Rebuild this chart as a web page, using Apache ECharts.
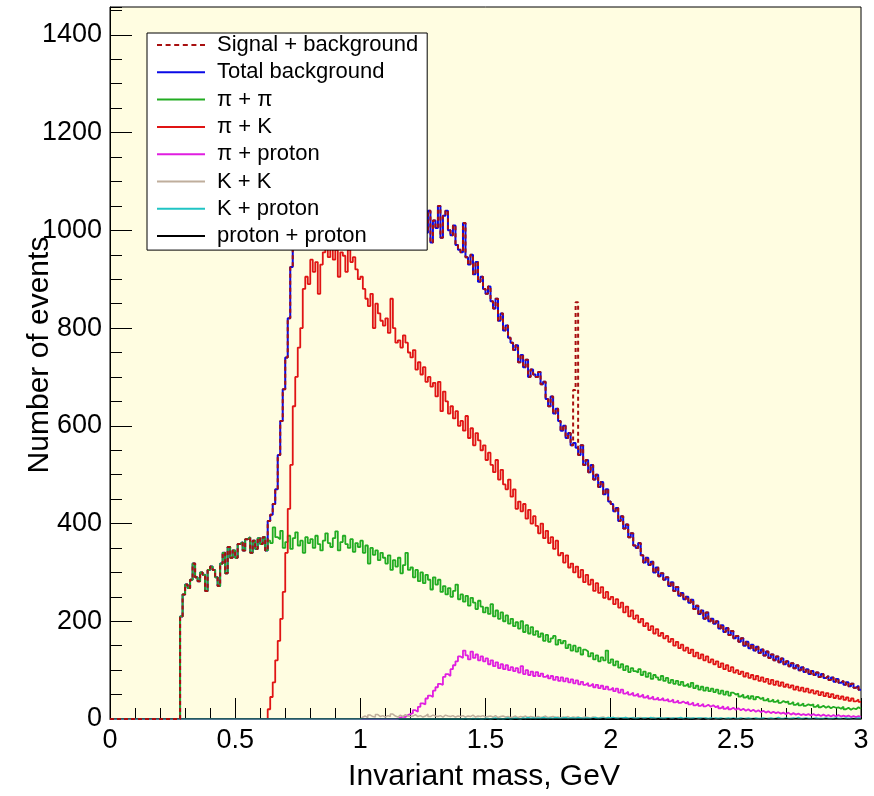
<!DOCTYPE html>
<html>
<head>
<meta charset="utf-8">
<script src="https://cdn.jsdelivr.net/npm/echarts@6/dist/echarts.min.js"></script>
<style>
html,body{margin:0;padding:0;background:#ffffff;}
#chart{width:874px;height:796px;}
</style>
</head>
<body>
<div id="chart"></div>
<script>
// ---------- axis / bin definitions ----------
const massMin = 0;
const massMax = 3;
const binWidth = 0.01;            // 300 bins of 10 MeV
const xTickInterval = 0.5;
const yMax = 1457;
const yTickInterval = 200;
const yMinorInterval = 50;
const xTitle = 'Invariant mass, GeV';
const yTitle = 'Number of events';

const seriesNames = ['Signal + background', 'Total background', 'π + π', 'π + K', 'π + proton', 'K + K', 'K + proton', 'proton + proton'];

// ---------- histogram contents (one value per 0.01 GeV bin, starting at 0.00) ----------
const totalBackground = [
0,0,0,0,0,0,0,0,0,0,                 // 0.00
0,0,0,0,0,0,0,0,0,0,                 // 0.10
0,0,0,0,0,0,0,0,210,255,             // 0.20
275,268,285,318,290,282,300,295,262,305, // 0.30
312,305,290,272,318,340,298,352,330,345, // 0.40
330,358,362,345,368,372,340,365,348,370, // 0.50
358,372,345,405,418,440,470,540,610,675, // 0.60
740,820,925,1010,1070,1130,1180,1240,1270,1290, // 0.70
1310,1285,1330,1300,1290,1340,1360,1320,1345,1370, // 0.80
1380,1340,1330,1355,1320,1305,1335,1280,1310,1265, // 0.90
1275,1230,1220,1175,1225,1150,1200,1160,1165,1140, // 1.00
1145,1130,1170,1130,1090,1110,1070,1105,1115,1065, // 1.10
1060,1050,1030,1025,1010,1045,995,1040,975,1020,   // 1.20
1005,1050,985,1030,1040,1000,990,1010,970,960,     // 1.30
955,1015,945,930,950,910,935,895,905,880,          // 1.40
870,885,855,840,860,815,830,795,805,780,           // 1.50
770,755,765,730,745,720,735,700,715,705,           // 1.60
700,710,685,690,655,640,660,625,635,610,           // 1.70
590,600,575,585,560,565,555,540,560,520,           // 1.80
530,505,520,490,500,475,485,460,470,445,           // 1.90
440,425,432,405,415,390,398,372,380,355,           // 2.00
350,360,335,320,330,315,322,300,310,292,           // 2.10
298,285,290,272,280,262,270,252,258,245,           // 2.20
250,238,244,225,232,215,222,205,218,200,           // 2.30
205,195,200,185,192,178,186,172,180,165,           // 2.40
170,158,165,150,158,145,152,140,148,135,           // 2.50
142,130,138,125,132,120,128,116,124,112,           // 2.60
118,108,114,104,110,100,106,96,102,92,             // 2.70
98,90,95,86,92,84,88,80,85,76,                     // 2.80
82,74,78,70,75,67,72,64,68,60                      // 2.90
];

const signalPlusBackground = [
0,0,0,0,0,0,0,0,0,0,                 // 0.00
0,0,0,0,0,0,0,0,0,0,                 // 0.10
0,0,0,0,0,0,0,0,210,255,             // 0.20
275,268,285,318,290,282,300,295,262,305, // 0.30
312,305,290,272,318,340,298,352,330,345, // 0.40
330,358,362,345,368,372,340,365,348,370, // 0.50
358,372,345,405,418,440,470,540,610,675, // 0.60
740,820,925,1010,1070,1130,1180,1240,1270,1290, // 0.70
1310,1285,1330,1300,1290,1340,1360,1320,1345,1370, // 0.80
1380,1340,1330,1355,1320,1305,1335,1280,1310,1265, // 0.90
1275,1230,1220,1175,1225,1150,1200,1160,1165,1140, // 1.00
1145,1130,1170,1130,1090,1110,1070,1105,1115,1065, // 1.10
1060,1050,1030,1025,1010,1045,995,1040,975,1020,   // 1.20
1005,1050,985,1030,1040,1000,990,1010,970,960,     // 1.30
955,1015,945,930,950,910,935,895,905,880,          // 1.40
870,885,855,840,860,815,830,795,805,780,           // 1.50
770,755,765,730,745,720,735,700,715,705,           // 1.60
700,710,685,690,655,640,660,625,635,610,           // 1.70
590,600,575,585,560,673,853,540,560,520,           // 1.80  (signal peak)
530,505,520,490,500,475,485,460,470,445,           // 1.90
440,425,432,405,415,390,398,372,380,355,           // 2.00
350,360,335,320,330,315,322,300,310,292,           // 2.10
298,285,290,272,280,262,270,252,258,245,           // 2.20
250,238,244,225,232,215,222,205,218,200,           // 2.30
205,195,200,185,192,178,186,172,180,165,           // 2.40
170,158,165,150,158,145,152,140,148,135,           // 2.50
142,130,138,125,132,120,128,116,124,112,           // 2.60
118,108,114,104,110,100,106,96,102,92,             // 2.70
98,90,95,86,92,84,88,80,85,76,                     // 2.80
82,74,78,70,75,67,72,64,68,60                      // 2.90
];

const pionPion = [
0,0,0,0,0,0,0,0,0,0,                 // 0.00
0,0,0,0,0,0,0,0,0,0,                 // 0.10
0,0,0,0,0,0,0,0,210,255,             // 0.20
275,268,285,318,290,282,300,295,262,305, // 0.30
312,305,290,272,318,340,298,352,330,345, // 0.40
330,358,362,345,368,372,340,365,348,370, // 0.50
358,372,345,365,360,392,372,368,385,350, // 0.60
362,375,348,370,382,355,365,340,372,360, // 0.70
368,350,375,358,345,365,380,360,352,370, // 0.80
384,345,362,375,358,350,368,342,360,352, // 0.90
365,340,355,318,350,336,345,325,340,330, // 1.00
318,335,305,325,312,330,298,315,340,305, // 1.10
310,290,305,282,300,278,295,285,265,290, // 1.20
275,285,260,272,255,268,250,262,275,245, // 1.30
255,240,252,232,248,238,225,242,230,218, // 1.40
228,215,235,210,222,205,218,200,212,195, // 1.50
205,190,198,185,200,178,192,175,188,172, // 1.60
180,168,175,160,172,158,165,170,152,162, // 1.70
155,160,145,152,140,150,138,146,132,142, // 1.80
138,128,135,122,130,118,126,120,140,115, // 1.90
122,110,118,105,112,100,108,96,104,98,   // 2.00
95,102,90,97,86,94,82,90,85,80,          // 2.10
88,78,84,74,80,72,78,70,76,68,           // 2.20
72,66,74,63,68,60,66,58,64,57,           // 2.30
62,55,60,52,58,50,56,48,54,50,           // 2.40
52,46,50,44,48,42,47,40,45,41,           // 2.50
44,38,42,36,40,35,39,33,37,34,           // 2.60
36,31,35,29,33,28,32,27,30,28,           // 2.70
30,25,29,24,27,23,26,22,25,23,           // 2.80
24,21,25,20,23,19,22,20,24,21            // 2.90
];

const pionKaon = [
0,0,0,0,0,0,0,0,0,0,                 // 0.00
0,0,0,0,0,0,0,0,0,0,                 // 0.10
0,0,0,0,0,0,0,0,0,0,                 // 0.20
0,0,0,0,0,0,0,0,0,0,                 // 0.30
0,0,0,0,0,0,0,0,0,0,                 // 0.40
0,0,0,0,0,0,0,0,0,0,                 // 0.50
0,0,0,20,45,75,120,160,205,260,      // 0.60
340,430,520,640,700,760,800,880,905,890, // 0.70
940,915,935,870,930,955,965,945,970,940, // 0.80
960,905,955,948,915,960,935,945,920,900, // 0.90
905,880,860,845,870,800,850,830,815,805, // 1.00
820,790,860,800,770,775,760,785,770,750, // 1.10
740,755,715,730,705,720,690,700,680,688, // 1.20
660,690,630,670,650,625,640,615,630,600, // 1.30
610,590,620,575,595,560,585,570,550,560, // 1.40
530,545,520,505,530,490,510,480,470,490, // 1.50
455,470,430,445,425,440,410,428,400,415, // 1.60
395,380,400,370,385,360,372,348,365,335, // 1.70
340,320,335,310,318,300,312,290,305,280, // 1.80
295,275,285,262,278,258,270,248,260,245, // 1.90
250,235,245,228,238,218,230,210,222,205, // 2.00
212,198,205,190,196,182,190,175,184,170, // 2.10
176,165,170,158,164,150,158,145,152,140, // 2.20
146,135,142,128,136,124,132,120,128,116, // 2.30
122,112,118,106,114,102,110,98,106,95,   // 2.40
100,92,97,87,94,84,90,81,88,78,          // 2.50
85,76,82,72,80,70,77,68,75,66,           // 2.60
71,64,69,60,66,58,64,56,62,54,           // 2.70
59,52,57,49,55,47,53,45,51,43,           // 2.80
48,41,46,39,44,37,42,36,40,35            // 2.90
];

const pionProton = [
0,0,0,0,0,0,0,0,0,0,                 // 0.00
0,0,0,0,0,0,0,0,0,0,                 // 0.10
0,0,0,0,0,0,0,0,0,0,                 // 0.20
0,0,0,0,0,0,0,0,0,0,                 // 0.30
0,0,0,0,0,0,0,0,0,0,                 // 0.40
0,0,0,0,0,0,0,0,0,0,                 // 0.50
0,0,0,0,0,0,0,0,0,0,                 // 0.60
0,0,0,0,0,0,0,0,0,0,                 // 0.70
0,0,0,0,0,0,0,0,0,0,                 // 0.80
0,0,0,0,0,0,0,0,0,0,                 // 0.90
0,0,0,0,0,0,0,0,0,0,                 // 1.00
0,0,0,0,0,3,5,4,8,10,                // 1.10
12,18,15,25,32,30,42,48,45,58,       // 1.20
65,72,70,86,92,88,102,110,118,128,   // 1.30
125,140,130,122,138,125,132,120,128,118, // 1.40
124,112,120,108,116,104,112,102,110,100, // 1.50
106,98,104,95,108,92,100,90,97,88,   // 1.60
96,88,93,86,90,83,88,80,86,78,       // 1.70
85,77,83,75,81,73,79,71,76,70,       // 1.80
74,68,72,65,70,63,68,61,66,60,       // 1.90
64,57,62,54,60,52,56,50,54,48,       // 2.00
52,46,50,44,48,42,46,40,44,39,       // 2.10
43,38,41,36,40,34,38,33,36,32,       // 2.20
35,30,34,28,32,27,31,26,29,25,       // 2.30
28,24,27,22,26,21,25,20,23,19,       // 2.40
22,18,21,17,20,16,19,15,18,14,       // 2.50
17,13,16,12,15,12,14,11,13,10,       // 2.60
13,9,12,9,11,8,10,8,10,7,            // 2.70
10,7,9,6,9,6,8,5,8,5,                // 2.80
8,5,7,5,7,4,6,4,6,4                  // 2.90
];

const kaonKaon = [
0,0,0,0,0,0,0,0,0,0,  // 0.00
0,0,0,0,0,0,0,0,0,0,  // 0.10
0,0,0,0,0,0,0,0,0,0,  // 0.20
0,0,0,0,0,0,0,0,0,0,  // 0.30
0,0,0,0,0,0,0,0,0,0,  // 0.40
0,0,0,0,0,0,0,0,0,0,  // 0.50
0,0,0,0,0,0,0,0,0,0,  // 0.60
0,0,0,0,0,0,0,0,0,0,  // 0.70
0,0,0,0,0,0,0,0,0,0,  // 0.80
0,0,0,0,0,0,0,0,0,0,  // 0.90
4,6,3,8,5,4,9,5,7,4,  // 1.00
7,5,10,6,4,8,5,9,6,5, // 1.10
6,9,5,7,4,6,10,5,8,6, // 1.20
5,7,4,8,6,5,7,4,6,5,  // 1.30
7,4,6,5,8,4,6,5,7,4,  // 1.40
5,6,4,7,3,5,6,4,5,3,  // 1.50
4,6,3,5,4,6,3,5,4,3,  // 1.60
5,3,4,6,3,4,5,3,4,2,  // 1.70
4,3,5,2,4,3,4,2,3,4,  // 1.80
3,2,4,3,2,3,4,2,3,2,  // 1.90
3,2,3,2,2,3,2,1,3,2,  // 2.00
2,3,1,2,2,1,3,2,1,2,  // 2.10
2,1,2,2,1,2,1,2,1,1,  // 2.20
1,2,1,1,0,1,2,1,0,1,  // 2.30
1,0,1,1,0,1,0,1,0,1,  // 2.40
0,1,0,1,0,0,1,0,0,1,  // 2.50
0,0,1,0,0,1,0,0,0,0,  // 2.60
0,1,0,0,0,0,1,0,0,0,  // 2.70
0,0,0,1,0,0,0,0,1,0,  // 2.80
0,0,0,0,1,0,0,0,0,0   // 2.90
];

const kaonProton = [
0,0,0,0,0,0,0,0,0,0,  // 0.00
0,0,0,0,0,0,0,0,0,0,  // 0.10
0,0,0,0,0,0,0,0,0,0,  // 0.20
0,0,0,0,0,0,0,0,0,0,  // 0.30
0,0,0,0,0,0,0,0,0,0,  // 0.40
0,0,0,0,0,0,0,0,0,0,  // 0.50
0,0,0,0,0,0,0,0,0,0,  // 0.60
0,0,0,0,0,0,0,0,0,0,  // 0.70
0,0,0,0,0,0,0,0,0,0,  // 0.80
0,0,0,0,0,0,0,0,0,0,  // 0.90
0,0,0,0,0,0,0,0,0,0,  // 1.00
0,0,0,0,0,0,0,0,0,0,  // 1.10
0,0,0,0,0,0,0,0,0,0,  // 1.20
0,0,0,0,0,0,0,0,0,0,  // 1.30
0,1,0,0,1,0,1,0,0,1,  // 1.40
1,0,1,2,0,1,0,1,2,0,  // 1.50
1,2,1,0,2,1,3,1,2,1,  // 1.60
2,1,3,2,1,2,1,3,2,1,  // 1.70
2,3,1,2,2,1,3,2,1,2,  // 1.80
2,1,2,3,1,2,2,1,3,2,  // 1.90
3,2,1,2,2,3,1,2,2,1,  // 2.00
2,1,2,2,1,3,2,1,2,2,  // 2.10
1,2,2,1,2,1,2,3,1,2,  // 2.20
2,1,2,1,2,2,1,2,1,2,  // 2.30
1,2,1,2,1,1,2,1,2,1,  // 2.40
1,2,1,1,2,1,1,2,1,1,  // 2.50
2,1,1,2,1,1,3,1,1,2,  // 2.60
1,1,2,1,3,1,1,2,1,1,  // 2.70
1,2,1,1,1,2,1,1,1,2,  // 2.80
1,1,1,2,1,1,1,1,2,1   // 2.90
];

const protonProton = [
0,0,0,0,0,0,0,0,0,0,  // 0.00
0,0,0,0,0,0,0,0,0,0,  // 0.10
0,0,0,0,0,0,0,0,0,0,  // 0.20
0,0,0,0,0,0,0,0,0,0,  // 0.30
0,0,0,0,0,0,0,0,0,0,  // 0.40
0,0,0,0,0,0,0,0,0,0,  // 0.50
0,0,0,0,0,0,0,0,0,0,  // 0.60
0,0,0,0,0,0,0,0,0,0,  // 0.70
0,0,0,0,0,0,0,0,0,0,  // 0.80
0,0,0,0,0,0,0,0,0,0,  // 0.90
0,0,0,0,0,0,0,0,0,0,  // 1.00
0,0,0,0,0,0,0,0,0,0,  // 1.10
0,0,0,0,0,0,0,0,0,0,  // 1.20
0,0,0,0,0,0,0,0,0,0,  // 1.30
0,0,0,0,0,0,0,0,0,0,  // 1.40
0,0,0,0,0,0,0,0,0,0,  // 1.50
0,0,0,0,0,0,0,0,0,0,  // 1.60
0,0,0,0,0,0,0,0,0,0,  // 1.70
0,0,0,0,0,0,0,0,0,0,  // 1.80
0,0,1,0,0,0,1,0,0,0,  // 1.90
1,0,0,1,0,0,0,1,0,0,  // 2.00
0,1,0,0,1,0,0,0,1,0,  // 2.10
0,0,1,0,0,1,0,0,0,1,  // 2.20
0,0,0,1,0,0,1,0,0,0,  // 2.30
1,0,0,0,1,0,0,0,1,0,  // 2.40
0,0,1,0,0,0,1,0,0,0,  // 2.50
0,1,0,0,0,1,0,0,0,1,  // 2.60
0,0,0,1,0,0,0,1,0,0,  // 2.70
1,0,0,0,0,1,0,0,0,1,  // 2.80
0,0,1,0,0,0,1,0,0,0   // 2.90
];

// ---------- styling ----------
const FONT = "'Liberation Sans', Arial, Helvetica, sans-serif";
const colors = {
  signal: '#a80f0f',
  total: '#0a0ae6',
  pipi: '#22ac22',
  piK: '#e01414',
  piP: '#e01ee0',
  KK: '#bfae9c',
  KP: '#20c4c4',
  PP: '#000000'
};

// legend glyphs: a short dashed stroke for the signal, a plain stroke for the others
const dashedIcon = 'path://M0,0h5v2h-5zM8.6,0h5v2h-5zM17.2,0h5v2h-5zM25.8,0h5v2h-5zM34.4,0h5v2h-5zM43,0h5v2h-5z';
const solidIcon = 'rect';

// histogram outline: point at each bin's lower edge, plus the last upper edge
function histPoints(values) {
  const pts = values.map((v, i) => [Math.round(i * binWidth * 1000) / 1000, v]);
  pts.push([massMax, values[values.length - 1]]);
  return pts;
}

function histSeries(name, values, color, width, dashed, z) {
  return {
    name: name,
    type: 'line',
    step: 'end',
    symbol: 'none',
    showSymbol: false,
    data: histPoints(values),
    xAxisIndex: 0,
    yAxisIndex: 0,
    z: z,
    clip: true,
    lineStyle: { color: color, width: width, type: dashed ? [4, 3] : 'solid' },
    itemStyle: { color: color },
    emphasis: { disabled: true },
    animation: false
  };
}

const chart = echarts.init(document.getElementById('chart'), null, { renderer: 'canvas' });

const option = {
  animation: false,
  backgroundColor: '#ffffff',
  grid: {
    left: 110, right: 13, top: 7, bottom: 77,
    show: true,
    backgroundColor: '#fffde1',
    borderColor: '#000000',
    borderWidth: 1
  },
  xAxis: {
    type: 'value',
    min: massMin,
    max: massMax,
    interval: xTickInterval,
    axisLine: { show: true, onZero: false, lineStyle: { color: '#000', width: 1 } },
    axisTick: { show: true, inside: true, length: 21, lineStyle: { color: '#000', width: 1 } },
    minorTick: { show: true, splitNumber: 5, length: 11, lineStyle: { color: '#000', width: 1 } },
    splitLine: { show: false },
    minorSplitLine: { show: false },
    axisLabel: { color: '#000', fontSize: 27, fontFamily: FONT, margin: 8 }
  },
  yAxis: [
    {
      type: 'value',
      min: 0,
      max: yMax,
      interval: yTickInterval,
      axisLine: { show: true, onZero: false, lineStyle: { color: '#000', width: 1 } },
      axisTick: { show: true, inside: true, length: 22, lineStyle: { color: '#000', width: 1 } },
      splitLine: { show: false },
      axisLabel: {
        color: '#000', fontSize: 27, fontFamily: FONT, margin: 8,
        showMaxLabel: false,
        padding: [4, 0, 0, 0],
        formatter: v => (v % yTickInterval === 0 ? String(v) : '')
      }
    },
    {
      type: 'value',
      min: 0,
      max: yMax,
      interval: yMinorInterval,
      position: 'left',
      axisLine: { show: false },
      axisTick: { show: true, inside: true, length: 12, lineStyle: { color: '#000', width: 1 } },
      splitLine: { show: false },
      axisLabel: { show: false }
    }
  ],
  legend: {
    orient: 'vertical',
    left: 147,
    top: 33,
    padding: [1, 9, 3, 10],
    itemGap: 5.3,
    itemWidth: 48,
    itemHeight: 2,
    symbolKeepAspect: false,
    backgroundColor: '#ffffff',
    borderColor: '#000000',
    borderWidth: 1,
    borderRadius: 0,
    selectedMode: false,
    z: 10,
    data: seriesNames.map((n, i) => ({ name: n, icon: i === 0 ? dashedIcon : solidIcon })),
    textStyle: { fontSize: 22, fontFamily: FONT, color: '#000', lineHeight: 22, padding: [0, 0, 0, 7] }
  },
  graphic: [
    {
      type: 'text',
      x: 40, y: 355,
      rotation: Math.PI / 2,
      style: { text: yTitle, fontSize: 30, fontFamily: FONT, fill: '#000', textAlign: 'center', textVerticalAlign: 'middle', align: 'center', verticalAlign: 'middle' }
    },
    {
      type: 'text',
      x: 484, y: 777,
      style: { text: xTitle, fontSize: 30, fontFamily: FONT, fill: '#000', textAlign: 'center', textVerticalAlign: 'middle', align: 'center', verticalAlign: 'middle' }
    }
  ],
  series: [
    histSeries(seriesNames[1], totalBackground, colors.total, 2, false, 2),
    histSeries(seriesNames[2], pionPion, colors.pipi, 1.8, false, 2),
    histSeries(seriesNames[3], pionKaon, colors.piK, 1.8, false, 2),
    histSeries(seriesNames[4], pionProton, colors.piP, 1.8, false, 2),
    histSeries(seriesNames[5], kaonKaon, colors.KK, 1.5, false, 2),
    histSeries(seriesNames[6], kaonProton, colors.KP, 1.5, false, 2),
    histSeries(seriesNames[7], protonProton, colors.PP, 1.2, false, 2),
    histSeries(seriesNames[0], signalPlusBackground, colors.signal, 2, true, 3)
  ]
};

chart.setOption(option);
</script>
</body>
</html>
